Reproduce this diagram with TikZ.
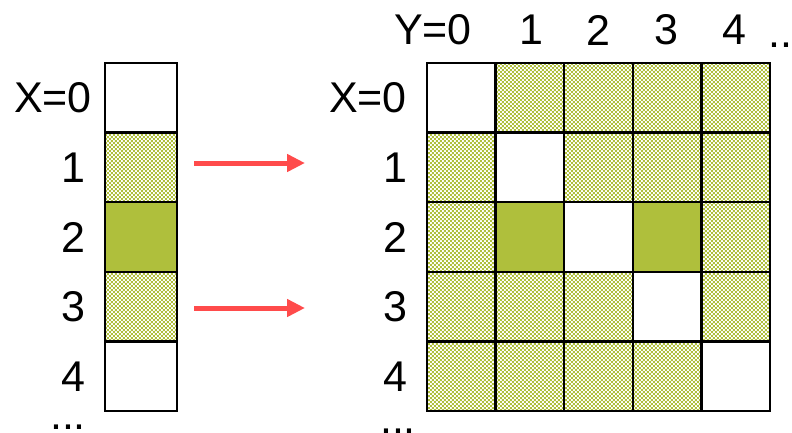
\documentclass[tikz,border=0pt]{standalone}
\usepackage{fontspec}
\setmainfont{Liberation Sans}
\usetikzlibrary{arrows.meta,positioning,patterns.meta}

\definecolor{olivecell}{HTML}{AFBF3C}
\definecolor{arrowred}{HTML}{FF4B4B}

% Muster aus kleinen Punkten (Schachbrett)
\tikzdeclarepattern{
  name=olivedots,
  parameters={},
  bottom left={(0pt,0pt)},
  top right={(4.4pt,4.4pt)},
  tile size={(4.4pt,4.4pt)},
  code={
    \pgfpathrectangle{\pgfpointorigin}{\pgfpoint{2.2pt}{2.2pt}}
    \pgfpathrectangle{\pgfpoint{2.2pt}{2.2pt}}{\pgfpoint{2.2pt}{2.2pt}}
    \pgfusepath{fill}
  }
}

\begin{document}
\begin{tikzpicture}[
        x=1pt, y=-1pt,
        % Grundstil der Zellen
        cell/.style = {
            draw,
            line width=2.5pt,
            minimum width=68.6pt,
            minimum height=69.6pt,
            inner sep=0pt
        },
        % leere Zelle
        empty/.style = {cell, fill=white},
        % gepunktete Zelle
        dotted cell/.style = {cell, pattern=olivedots, pattern color=olivecell},
        % volle Zelle
        full/.style = {cell, fill=olivecell},
        % Beschriftung
        lbl/.style = {font=\fontsize{43}{50}\selectfont, inner sep=0pt},
        % Pfeile
        map arrow/.style = {
            -{Triangle[length=18pt,width=17pt]},
            line width=5pt,
            arrowred
        }
    ]
    \useasboundingbox (0,0) rectangle (792,432);

    % linke Spalte
    \node[empty, minimum width=72pt]       (c0) at (141,97.8)  {};
    \node[dotted cell, minimum width=72pt] (c1) at (141,167.4) {};
    \node[full, minimum width=72pt]        (c2) at (141,237)   {};
    \node[dotted cell, minimum width=72pt] (c3) at (141,306.6) {};
    \node[empty, minimum width=72pt]       (c4) at (141,376.2) {};

    \node[lbl, anchor=east] (lx0) at (92,97.8) {X=0};
    \node[lbl] (lx1) at (73,167.4) {1};
    \node[lbl] (lx2) at (73,237)   {2};
    \node[lbl] (lx3) at (73,306.6) {3};
    \node[lbl] (lx4) at (73,376.2) {4};
    \node[lbl, anchor=base] (ldots) at (68,429) {...};

    % Matrix rechts
    \foreach \r/\y/\types in {
        0/97.8/{empty,dotted cell,dotted cell,dotted cell,dotted cell},
        1/167.4/{dotted cell,empty,dotted cell,dotted cell,dotted cell},
        2/237/{dotted cell,full,empty,full,dotted cell},
        3/306.6/{dotted cell,dotted cell,dotted cell,empty,dotted cell},
        4/376.2/{dotted cell,dotted cell,dotted cell,dotted cell,empty}} {
        \foreach \t [count=\c from 0] in \types {
            \node[\t] (m\r\c) at ({461.3+68.6*\c},\y) {};
        }
    }

    \node[lbl, anchor=east] (rx0) at (407,97.8) {X=0};
    \node[lbl] (rx1) at (395,167.4) {1};
    \node[lbl] (rx2) at (395,237)   {2};
    \node[lbl] (rx3) at (395,306.6) {3};
    \node[lbl] (rx4) at (395,376.2) {4};
    \node[lbl, anchor=base] (rdots) at (398,433) {...};

    \node[lbl] (y0) at (433,30) {Y=0};
    \node[lbl] (y1) at (531,30) {1};
    \node[lbl] (y2) at (598,30) {2};
    \node[lbl] (y3) at (666,30) {3};
    \node[lbl] (y4) at (734,30) {4};
    \node[lbl, anchor=base west] (ydots) at (768,47) {...};

    % Pfeile
    \coordinate (a1s) at (194,163);
    \coordinate (a1e) at (305,163);
    \coordinate (a3s) at (194,308);
    \coordinate (a3e) at (305,308);
    \draw[map arrow] (a1s) -- (a1e);
    \draw[map arrow] (a3s) -- (a3e);
\end{tikzpicture}
\end{document}
